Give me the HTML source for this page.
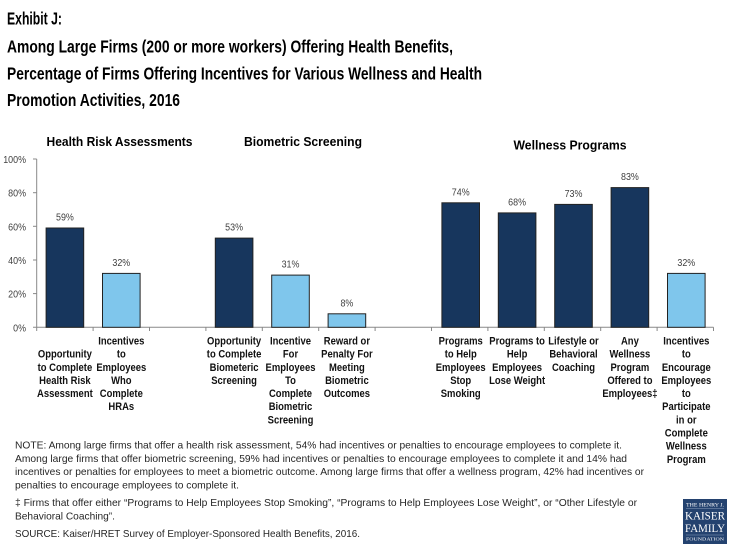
<!DOCTYPE html>
<html><head><meta charset="utf-8"><style>
html,body{margin:0;padding:0;background:#fff;}
svg{display:block;}
text{font-family:"Liberation Sans",Arial,sans-serif;}
.t{font-weight:bold;font-size:17.5px;fill:#000;}
.g{font-weight:bold;font-size:12.6px;fill:#000;text-anchor:middle;}
.c{font-weight:bold;font-size:11px;fill:#111;text-anchor:middle;}
.v{font-size:10.5px;fill:#404040;text-anchor:middle;}
.y{font-size:10.5px;fill:#404040;text-anchor:end;}
.n{font-size:10.5px;fill:#262626;}
.lg{font-family:"Liberation Serif",serif;fill:#fff;text-anchor:middle;}
</style></head><body>
<svg width="735" height="551" viewBox="0 0 735 551" xmlns="http://www.w3.org/2000/svg">
<rect width="735" height="551" fill="#fff"/>
<!-- Title -->
<text class="t" x="7" y="24.3" textLength="55" lengthAdjust="spacingAndGlyphs">Exhibit J:</text>
<text class="t" x="7" y="52.7" textLength="446" lengthAdjust="spacingAndGlyphs">Among Large Firms (200 or more workers) Offering Health Benefits,</text>
<text class="t" x="7" y="79.3" textLength="475" lengthAdjust="spacingAndGlyphs">Percentage of Firms Offering Incentives for Various Wellness and Health</text>
<text class="t" x="7" y="106" textLength="173" lengthAdjust="spacingAndGlyphs">Promotion Activities, 2016</text>

<!-- Group titles -->
<text class="g" x="119.5" y="146" textLength="146" lengthAdjust="spacingAndGlyphs">Health Risk Assessments</text>
<text class="g" x="303" y="146" textLength="118" lengthAdjust="spacingAndGlyphs">Biometric Screening</text>
<text class="g" x="570" y="149.5" textLength="113" lengthAdjust="spacingAndGlyphs">Wellness Programs</text>

<!-- Y axis -->
<g stroke="#898989" stroke-width="1">
<line x1="36.7" y1="159" x2="36.7" y2="327.3"/>
<line x1="33" y1="159" x2="36.7" y2="159"/>
<line x1="33" y1="192.7" x2="36.7" y2="192.7"/>
<line x1="33" y1="226.3" x2="36.7" y2="226.3"/>
<line x1="33" y1="260" x2="36.7" y2="260"/>
<line x1="33" y1="293.6" x2="36.7" y2="293.6"/>
<line x1="33" y1="327.3" x2="713.5" y2="327.3"/>
</g>
<g transform="translate(26 0) scale(0.85 1)"><text class="y" x="0" y="163">100%</text>
<text class="y" x="0" y="196.7">80%</text>
<text class="y" x="0" y="230.3">60%</text>
<text class="y" x="0" y="264">40%</text>
<text class="y" x="0" y="297.6">20%</text>
<text class="y" x="0" y="331.3">0%</text></g>
<!-- X ticks -->
<g stroke="#898989" stroke-width="1">
<line x1="36.7" y1="327.3" x2="36.7" y2="331"/>
<line x1="93.1" y1="327.3" x2="93.1" y2="331"/>
<line x1="149.5" y1="327.3" x2="149.5" y2="331"/>
<line x1="205.9" y1="327.3" x2="205.9" y2="331"/>
<line x1="262.3" y1="327.3" x2="262.3" y2="331"/>
<line x1="318.7" y1="327.3" x2="318.7" y2="331"/>
<line x1="375.1" y1="327.3" x2="375.1" y2="331"/>
<line x1="431.5" y1="327.3" x2="431.5" y2="331"/>
<line x1="487.9" y1="327.3" x2="487.9" y2="331"/>
<line x1="544.3" y1="327.3" x2="544.3" y2="331"/>
<line x1="600.7" y1="327.3" x2="600.7" y2="331"/>
<line x1="657.1" y1="327.3" x2="657.1" y2="331"/>
<line x1="713.5" y1="327.3" x2="713.5" y2="331"/>
</g>

<!-- Bars -->
<g stroke="#222" stroke-width="1">
<rect x="46.1" y="228.0" width="37.6" height="99.3" fill="#17365d"/>
<rect x="102.5" y="273.4" width="37.6" height="53.9" fill="#7fc6ec"/>
<rect x="215.3" y="238.1" width="37.6" height="89.2" fill="#17365d"/>
<rect x="271.7" y="275.1" width="37.6" height="52.2" fill="#7fc6ec"/>
<rect x="328.1" y="313.8" width="37.6" height="13.5" fill="#7fc6ec"/>
<rect x="441.9" y="202.8" width="37.6" height="124.5" fill="#17365d"/>
<rect x="498.3" y="212.9" width="37.6" height="114.4" fill="#17365d"/>
<rect x="554.7" y="204.4" width="37.6" height="122.9" fill="#17365d"/>
<rect x="611.1" y="187.6" width="37.6" height="139.7" fill="#17365d"/>
<rect x="667.5" y="273.4" width="37.6" height="53.9" fill="#7fc6ec"/>
</g>

<!-- Value labels -->
<g transform="translate(64.9 0) scale(0.85 1)"><text class="v" x="0" y="220.5">59%</text></g>
<g transform="translate(121.3 0) scale(0.85 1)"><text class="v" x="0" y="265.9">32%</text></g>
<g transform="translate(234.1 0) scale(0.85 1)"><text class="v" x="0" y="230.6">53%</text></g>
<g transform="translate(290.5 0) scale(0.85 1)"><text class="v" x="0" y="267.6">31%</text></g>
<g transform="translate(346.9 0) scale(0.85 1)"><text class="v" x="0" y="306.3">8%</text></g>
<g transform="translate(460.7 0) scale(0.85 1)"><text class="v" x="0" y="195.3">74%</text></g>
<g transform="translate(517.1 0) scale(0.85 1)"><text class="v" x="0" y="205.4">68%</text></g>
<g transform="translate(573.5 0) scale(0.85 1)"><text class="v" x="0" y="196.9">73%</text></g>
<g transform="translate(629.9 0) scale(0.85 1)"><text class="v" x="0" y="180.1">83%</text></g>
<g transform="translate(686.3 0) scale(0.85 1)"><text class="v" x="0" y="265.9">32%</text></g>

<!-- Category labels -->
<g transform="translate(64.9 0) scale(0.86 1)">
<text class="c" x="0" y="357.6">Opportunity</text>
<text class="c" x="0" y="370.8">to Complete</text>
<text class="c" x="0" y="383.9">Health Risk</text>
<text class="c" x="0" y="397.1">Assessment</text>
</g>
<g transform="translate(121.3 0) scale(0.86 1)">
<text class="c" x="0" y="344.5">Incentives</text>
<text class="c" x="0" y="357.6">to</text>
<text class="c" x="0" y="370.8">Employees</text>
<text class="c" x="0" y="383.9">Who</text>
<text class="c" x="0" y="397.1">Complete</text>
<text class="c" x="0" y="410.2">HRAs</text>
</g>
<g transform="translate(234.1 0) scale(0.86 1)">
<text class="c" x="0" y="344.5">Opportunity</text>
<text class="c" x="0" y="357.6">to Complete</text>
<text class="c" x="0" y="370.8">Biometeric</text>
<text class="c" x="0" y="383.9">Screening</text>
</g>
<g transform="translate(290.5 0) scale(0.86 1)">
<text class="c" x="0" y="344.5">Incentive</text>
<text class="c" x="0" y="357.6">For</text>
<text class="c" x="0" y="370.8">Employees</text>
<text class="c" x="0" y="383.9">To</text>
<text class="c" x="0" y="397.1">Complete</text>
<text class="c" x="0" y="410.2">Biometric</text>
<text class="c" x="0" y="423.4">Screening</text>
</g>
<g transform="translate(346.9 0) scale(0.86 1)">
<text class="c" x="0" y="344.5">Reward or</text>
<text class="c" x="0" y="357.6">Penalty For</text>
<text class="c" x="0" y="370.8">Meeting</text>
<text class="c" x="0" y="383.9">Biometric</text>
<text class="c" x="0" y="397.1">Outcomes</text>
</g>
<g transform="translate(460.7 0) scale(0.86 1)">
<text class="c" x="0" y="344.5">Programs</text>
<text class="c" x="0" y="357.6">to Help</text>
<text class="c" x="0" y="370.8">Employees</text>
<text class="c" x="0" y="383.9">Stop</text>
<text class="c" x="0" y="397.1">Smoking</text>
</g>
<g transform="translate(517.1 0) scale(0.86 1)">
<text class="c" x="0" y="344.5">Programs to</text>
<text class="c" x="0" y="357.6">Help</text>
<text class="c" x="0" y="370.8">Employees</text>
<text class="c" x="0" y="383.9">Lose Weight</text>
</g>
<g transform="translate(573.5 0) scale(0.86 1)">
<text class="c" x="0" y="344.5">Lifestyle or</text>
<text class="c" x="0" y="357.6">Behavioral</text>
<text class="c" x="0" y="370.8">Coaching</text>
</g>
<g transform="translate(629.9 0) scale(0.86 1)">
<text class="c" x="0" y="344.5">Any</text>
<text class="c" x="0" y="357.6">Wellness</text>
<text class="c" x="0" y="370.8">Program</text>
<text class="c" x="0" y="383.9">Offered to</text>
<text class="c" x="0" y="397.1">Employees‡</text>
</g>
<g transform="translate(686.3 0) scale(0.86 1)">
<text class="c" x="0" y="344.5">Incentives</text>
<text class="c" x="0" y="357.6">to</text>
<text class="c" x="0" y="370.8">Encourage</text>
<text class="c" x="0" y="383.9">Employees</text>
<text class="c" x="0" y="397.1">to</text>
<text class="c" x="0" y="410.2">Participate</text>
<text class="c" x="0" y="423.4">in or</text>
<text class="c" x="0" y="436.5">Complete</text>
<text class="c" x="0" y="449.7">Wellness</text>
<text class="c" x="0" y="462.8">Program</text>
</g>

<!-- Notes -->
<text class="n" x="15" y="448.5" textLength="607" lengthAdjust="spacingAndGlyphs">NOTE: Among large firms that offer a health risk assessment, 54% had incentives or penalties to encourage employees to complete it.</text>
<text class="n" x="15" y="461.8" textLength="612" lengthAdjust="spacingAndGlyphs">Among large firms that offer biometric screening, 59% had incentives or penalties to encourage employees to complete it and 14% had</text>
<text class="n" x="15" y="475.2" textLength="629" lengthAdjust="spacingAndGlyphs">incentives or penalties for employees to meet a biometric outcome. Among large firms that offer a wellness program, 42% had incentives or</text>
<text class="n" x="15" y="488.5" textLength="224" lengthAdjust="spacingAndGlyphs">penalties to encourage employees to complete it.</text>
<text class="n" x="15" y="506.2" textLength="622" lengthAdjust="spacingAndGlyphs">‡ Firms that offer either “Programs to Help Employees Stop Smoking”, “Programs to Help Employees Lose Weight”, or “Other Lifestyle  or</text>
<text class="n" x="15" y="519.5" textLength="100" lengthAdjust="spacingAndGlyphs">Behavioral Coaching”.</text>
<text class="n" x="15" y="536.8" textLength="345" lengthAdjust="spacingAndGlyphs">SOURCE: Kaiser/HRET Survey of Employer-Sponsored Health Benefits, 2016.</text>

<!-- Logo -->
<rect x="683" y="499" width="44" height="45" fill="#24426f"/>
<text class="lg" x="705" y="506.5" style="font-family:'Liberation Serif',serif;font-size:5px" textLength="38" lengthAdjust="spacingAndGlyphs">THE HENRY J.</text>
<text class="lg" x="705" y="519.5" style="font-family:'Liberation Serif',serif;font-size:12px" textLength="40" lengthAdjust="spacingAndGlyphs">KAISER</text>
<text class="lg" x="705" y="532" style="font-family:'Liberation Serif',serif;font-size:12px" textLength="40" lengthAdjust="spacingAndGlyphs">FAMILY</text>
<text class="lg" x="705" y="540.5" style="font-family:'Liberation Serif',serif;font-size:4.5px" textLength="38" lengthAdjust="spacingAndGlyphs">FOUNDATION</text>
<line x1="686" y1="508.5" x2="724" y2="508.5" stroke="#8ea2c0" stroke-width="0.5"/>
<line x1="686" y1="535" x2="724" y2="535" stroke="#8ea2c0" stroke-width="0.5"/>
</svg>
</body></html>
